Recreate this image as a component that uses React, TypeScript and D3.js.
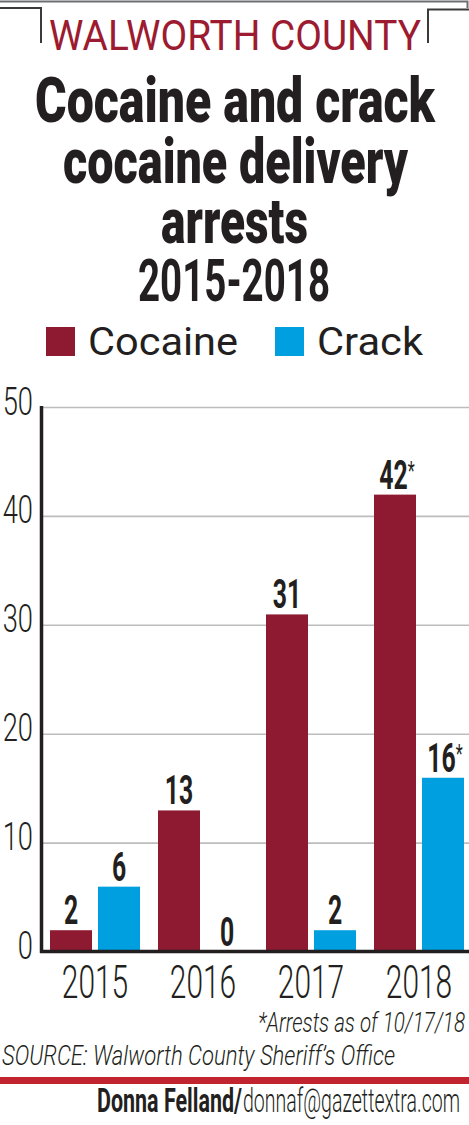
import React from "react";
import * as d3 from "d3";

// ---------- data ----------
const years = ["2015", "2016", "2017", "2018"];
const seriesNames = ["Cocaine", "Crack"];
const cocaine = [2, 13, 31, 42];
const crack = [6, 0, 2, 16];
const footnotedYears = ["2018"]; // values marked with an asterisk
const yTicks = [0, 10, 20, 30, 40, 50];

const kicker = "WALWORTH COUNTY";
const titleLines = ["Cocaine and crack", "cocaine delivery", "arrests"];
const subtitle = "2015-2018";
const footnote = "*Arrests as of 10/17/18";
const source = "SOURCE: Walworth County Sheriff\u2019s Office";
const bylineName = "Donna Felland/";
const bylineEmail = "donnaf@gazettextra.com";

// ---------- style ----------
const W = 469;
const H = 1125;
const INK = "#231f20";
const RED_TXT = "#9c1b30";
const RULE_RED = "#c1232f";
const GRID = "#bdbdbd";
const colors: Record<string, string> = { Cocaine: "#8d1a30", Crack: "#009fdf" };
const FONT = "Roboto, 'Noto Sans', 'DejaVu Sans', sans-serif";

type FitProps = {
  x: number;
  y: number;
  len: number;
  size: number;
  weight?: number;
  fill?: string;
  italic?: boolean;
  children: React.ReactNode;
};
function Fit({ x, y, len, size, weight = 400, fill = INK, italic, children }: FitProps) {
  return (
    <text
      x={x}
      y={y}
      textLength={len}
      lengthAdjust="spacingAndGlyphs"
      fontSize={size}
      fontWeight={weight}
      fontFamily={FONT}
      fontStyle={italic ? "italic" : "normal"}
      fill={fill}
    >
      {children}
    </text>
  );
}

type CondProps = {
  x: number;
  y: number;
  sx: number;
  size: number;
  weight?: number;
  anchor?: "start" | "middle" | "end";
  fill?: string;
  children: React.ReactNode;
};
function Cond({ x, y, sx, size, weight = 400, anchor = "start", fill = INK, children }: CondProps) {
  return (
    <text
      transform={`translate(${x},${y}) scale(${sx},1)`}
      textAnchor={anchor}
      fontSize={size}
      fontWeight={weight}
      fontFamily={FONT}
      fill={fill}
    >
      {children}
    </text>
  );
}

export default function App() {
  const y = d3.scaleLinear().domain([0, 50]).range([952, 407.5]);
  const x0 = d3.scaleBand<string>().domain(years).range([50, 464]).paddingInner(1 / 6);
  const x1 = d3
    .scaleBand<string>()
    .domain(seriesNames)
    .range([0, x0.bandwidth()])
    .paddingInner(0.125);

  const seriesValues: Record<string, number[]> = { Cocaine: cocaine, Crack: crack };

  const legendX = [46, 275];
  const legendLen: Record<string, number> = { Cocaine: 150, Crack: 106 };

  const titleGeom = [
    { x: 35, y: 122, len: 400 },
    { x: 63, y: 183, len: 345 },
    { x: 161, y: 243, len: 147 },
  ];

  return (
    <svg
      width={W}
      height={H}
      viewBox={`0 0 ${W} ${H}`}
      style={{ position: "absolute", left: 0, top: 0, display: "block", background: "#fff" }}
    >
      <rect x={0} y={0} width={W} height={H} fill="#fff" />

      {/* header bracket */}
      <g fill="none" strokeWidth={2}>
        <path d="M0,1.5 H467.5 V8" stroke="#6d6e70" />
        <path d="M0,8 H41 V43" stroke="#3a3a3a" />
        <path d="M469,9.5 H428 V43" stroke="#3a3a3a" />
      </g>
      <Fit x={49} y={50} len={372} size={42} fill={RED_TXT}>
        {kicker}
      </Fit>

      {/* title */}
      {titleLines.map((t, i) => (
        <Fit key={t} x={titleGeom[i].x} y={titleGeom[i].y} len={titleGeom[i].len} size={63} weight={900}>
          {t}
        </Fit>
      ))}
      <Fit x={138} y={301} len={192} size={60} weight={700}>
        {subtitle}
      </Fit>

      {/* legend */}
      {seriesNames.map((s, i) => (
        <g key={s}>
          <rect x={legendX[i]} y={327} width={29} height={29} fill={colors[s]} />
          <Fit x={legendX[i] + 42} y={355} len={legendLen[s]} size={39}>
            {s}
          </Fit>
        </g>
      ))}

      {/* grid */}
      {yTicks
        .filter((t) => t > 0)
        .map((t) => (
          <line key={t} x1={43} x2={W} y1={y(t)} y2={y(t)} stroke={GRID} strokeWidth={1.6} />
        ))}

      {/* y tick labels */}
      {yTicks.map((t) => (
        <Cond key={t} x={33} y={y(t) + 7} sx={0.7} size={39} weight={300} anchor="end">
          {t}
        </Cond>
      ))}

      {/* bars */}
      {years.map((yr, gi) => (
        <g key={yr} transform={`translate(${x0(yr)},0)`}>
          {seriesNames.map((s) => {
            const v = seriesValues[s][gi];
            const bx = x1(s)!;
            const bw = x1.bandwidth();
            const star = footnotedYears.includes(yr) && v > 0;
            return (
              <g key={s}>
                {v > 0 && (
                  <rect x={bx} y={y(v)} width={bw} height={y(0) - y(v)} fill={colors[s]} />
                )}
                <text
                  transform={`translate(${bx + bw / 2 + (star ? 2 : 0)},${y(v) - 6}) scale(0.62,1)`}
                  textAnchor="middle"
                  fontSize={40}
                  fontWeight={700}
                  fontFamily={FONT}
                  fill={INK}
                >
                  {v}
                  {star && (
                    <tspan fontSize={26} fontWeight={400} dy={-9}>
                      *
                    </tspan>
                  )}
                </text>
              </g>
            );
          })}
        </g>
      ))}

      {/* axes */}
      <line x1={41.5} x2={41.5} y1={406} y2={953} stroke={INK} strokeWidth={3.5} />
      <line x1={40} x2={W} y1={951.5} y2={951.5} stroke={INK} strokeWidth={3.5} />

      {/* x labels */}
      {years.map((yr) => (
        <Cond key={yr} x={x0(yr)! + x0.bandwidth() / 2} y={998} sx={0.65} size={46} weight={300} anchor="middle">
          {yr}
        </Cond>
      ))}

      {/* footer */}
      <Fit x={258} y={1032} len={207} size={28} weight={300} italic>
        {footnote}
      </Fit>
      <Fit x={2} y={1065} len={393} size={28} weight={300} italic>
        {source}
      </Fit>
      <rect x={0} y={1077} width={W} height={7} fill={RULE_RED} />
      <Fit x={97} y={1112} len={145} size={34} weight={700}>
        {bylineName}
      </Fit>
      <Fit x={243} y={1112} len={217} size={34} weight={300}>
        {bylineEmail}
      </Fit>
    </svg>
  );
}
